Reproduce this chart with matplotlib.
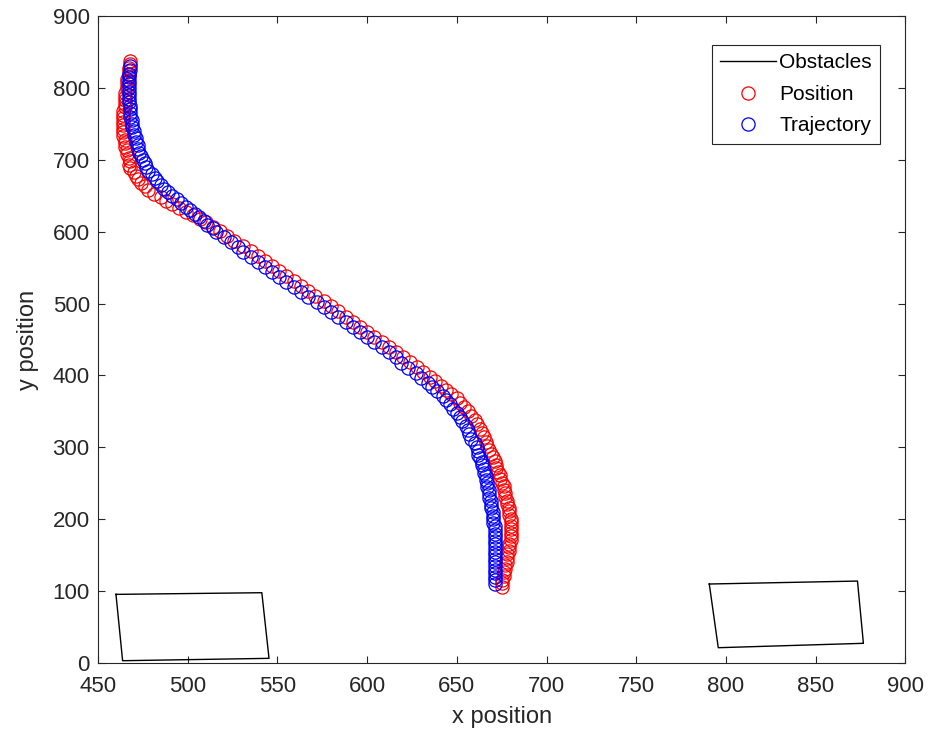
import matplotlib.pyplot as plt

plt.rcParams['font.family'] = ['Liberation Sans', 'DejaVu Sans']

# obstacle outlines (corner points, closed by repeating the first)
obstacle1_x = [460.0, 541.3, 545.3, 463.7, 460.0]
obstacle1_y = [95.5, 97.8, 6.5, 3.2, 95.5]
obstacle2_x = [790.7, 873.3, 876.6, 795.7, 790.7]
obstacle2_y = [109.9, 114.0, 27.4, 21.3, 109.9]

# measured position
position_x = [468, 468, 467, 467, 467, 466, 466, 466, 466, 465, 465, 465, 465, 465, 464,
              464, 464, 464, 464, 464, 464, 464, 465, 465, 465, 466, 466, 467, 468,
              467, 468, 470, 471, 472, 474, 476, 478, 481, 485, 488, 491, 495, 499,
              503, 507, 510, 514, 518,
              522, 526, 531, 535, 539, 543, 547, 551, 555, 559, 563, 567, 571, 576,
              580, 584, 588, 592, 596, 600, 604, 608, 612, 616, 620, 624, 628, 631,
              635, 638, 641, 644, 647, 650, 652, 654, 656, 658, 660, 661, 663, 664,
              665, 666, 667,
              668, 669, 670, 671, 672, 672, 673, 674, 674, 675, 676, 676, 677, 677,
              678, 678, 679, 679, 679, 680, 680, 680, 680, 680, 680, 680, 679, 679,
              679, 678, 678, 678, 677, 677, 676, 676, 675, 675, 675]
position_y = [838, 833, 828, 823, 818, 813, 808, 803, 798, 793, 788, 783, 778, 773, 768,
              763, 758, 753, 748, 743, 738, 733, 728, 723, 718, 713, 708, 703, 698,
              693, 688, 683, 678, 673, 668, 663, 658, 653, 648, 643, 638, 633, 628,
              623, 618, 613, 607, 601,
              594, 587, 580, 573, 566, 559, 552, 545, 538, 531, 524, 517, 510, 503,
              496, 489, 482, 475, 468, 461, 454, 447, 440, 433, 426, 419, 412, 405,
              398, 392, 386, 380, 374, 368, 362, 356, 350, 344, 338, 332, 326, 320,
              314, 308, 302,
              296, 291, 286, 281, 276, 271, 266, 261, 256, 251, 246, 241, 236, 231,
              226, 221, 216, 211, 206, 201, 196, 191, 186, 181, 176, 171, 166, 161,
              156, 151, 146, 141, 136, 131, 126, 121, 116, 111, 106]

# planned trajectory
trajectory_x = [468, 468, 467, 467, 467, 467, 467, 467, 467, 467, 467, 468, 468, 468,
                468, 469, 469, 469, 470, 470, 471, 471, 472, 472, 473, 474, 475,
                476, 477, 478, 480, 482, 483, 485, 487, 489, 491, 494, 496, 499, 501,
                504, 506, 509, 511, 514, 516,
                520, 524, 528, 531, 535, 539, 543, 547, 551, 555, 559, 563, 567, 572,
                576, 580, 584, 588, 592, 596, 600, 604, 608, 612, 616, 619, 623, 627,
                630, 634, 636, 639, 642, 644, 646, 648, 650, 652, 653, 655, 656, 657,
                658, 660, 661,
                662, 662, 663, 664, 664, 665, 665, 666, 666, 667, 667, 668, 668, 668,
                669, 669, 669, 670, 670, 670, 670, 671, 671, 671, 671, 671, 671, 671,
                671, 671, 671, 671, 671, 671, 671, 671, 671, 671]
trajectory_y = [830, 825, 820, 815, 810, 805, 800, 795, 790, 785, 780, 775, 770, 765,
                760, 755, 750, 745, 740, 735, 730, 725, 720, 715, 710, 705, 700,
                695, 690, 685, 680, 675, 670, 665, 660, 655, 650, 645, 640, 635, 630,
                625, 620, 615, 610, 605, 600,
                593, 586, 579, 572, 565, 558, 551, 544, 537, 530, 523, 516, 509, 502,
                495, 488, 481, 474, 467, 460, 453, 446, 439, 432, 425, 418, 411, 404,
                397, 390, 384, 378, 372, 366, 360, 354, 348, 342, 336, 330, 324, 318,
                312, 306, 300,
                295, 290, 285, 280, 275, 270, 265, 260, 255, 250, 245, 240, 235, 230,
                225, 220, 215, 210, 205, 200, 195, 190, 185, 180, 175, 170, 165, 160,
                155, 150, 145, 140, 135, 130, 125, 120, 115, 110]

x_ticks = list(range(450, 901, 50))
y_ticks = list(range(0, 901, 100))

fig = plt.figure(figsize=(9.39, 7.49), dpi=100)
ax = fig.add_axes([0.1044, 0.1148, 0.8598, 0.8638])

ax.plot(obstacle1_x, obstacle1_y, color='black', lw=1.0, label='Obstacles')
ax.plot(obstacle2_x, obstacle2_y, color='black', lw=1.0)
ax.plot(position_x, position_y, 'o', mfc='none', mec='red', ms=9.5, mew=0.9,
        label='Position')
ax.plot(trajectory_x, trajectory_y, 'o', mfc='none', mec='blue', ms=9.5, mew=0.9,
        label='Trajectory')

ax.set_xlim(450, 900)
ax.set_ylim(0, 900)
ax.set_xticks(x_ticks)
ax.set_yticks(y_ticks)

axis_grey = '#262626'
for s in ax.spines.values():
    s.set_color(axis_grey)
    s.set_linewidth(0.8)
ax.tick_params(direction='in', length=5, width=0.8, top=True, right=True,
               colors=axis_grey, labelsize=16)
ax.tick_params(axis='x', pad=9)
ax.tick_params(axis='y', pad=6)
ax.set_xlabel('x position', fontsize=17, color=axis_grey, labelpad=7)
ax.set_ylabel('y position', fontsize=17, color=axis_grey, labelpad=10)

leg = ax.legend(loc='upper right', bbox_to_anchor=(0.969, 0.955), fontsize=15,
                frameon=True, fancybox=False, framealpha=1, edgecolor=axis_grey,
                handlelength=2.7, handletextpad=0.15, borderpad=0.4,
                labelspacing=0.6, borderaxespad=0)
leg.get_frame().set_linewidth(0.8)

fig.savefig('out.png', dpi=100)
